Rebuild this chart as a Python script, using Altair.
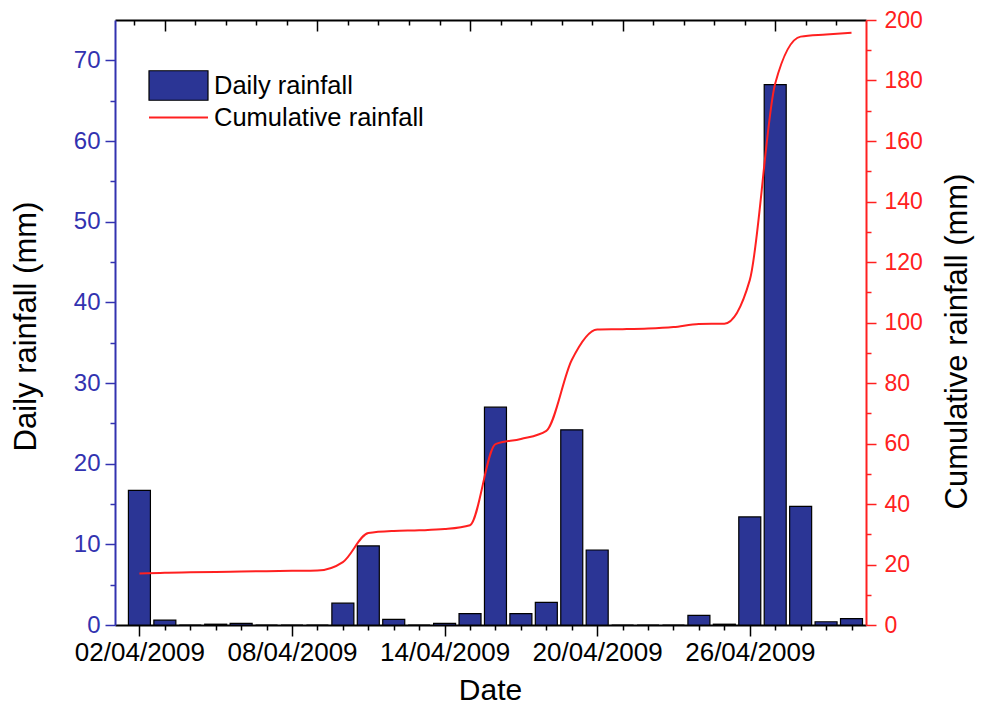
import altair as alt
import pandas as pd

# Day of April 2009
days = list(range(2, 31))
daily_rain = [16.7, 0.6, 0.0, 0.1, 0.2, 0.0, 0.0, 0.0, 2.7, 9.8, 0.7, 0.0, 0.2, 1.4,
              27.0, 1.4, 2.8, 24.2, 9.3, 0.0, 0.0, 0.0, 1.2, 0.1, 13.4, 67.0, 14.7, 0.4, 0.8]
cumulative_rain = [17.0, 17.3, 17.4, 17.5, 17.7, 17.8, 17.9, 18.0, 20.8, 30.4, 31.1, 31.3,
                   31.7, 33.0, 59.8, 61.5, 64.2, 87.6, 97.7, 97.8, 98.0, 98.5, 99.5, 99.6,
                   114.0, 179.0, 194.5, 195.2, 195.8]
bar_series = "Daily rainfall"
line_series = "Cumulative rainfall"

top_ticks = [round(1.8 + 1.2 * k, 2) for k in range(24)]
left_ticks = list(range(0, 71, 5))
right_ticks = list(range(0, 201, 10))

df = pd.DataFrame({
    "day": days,
    "daily": daily_rain,
    "cumulative": cumulative_rain,
    "s1": [bar_series] * len(days),
    "s2": [line_series] * len(days),
})

FONT = "Liberation Sans"
BLUE = "#3232b0"
BAR = "#2b3595"
RED = "#ff2020"
W, H = 751, 605

xscale = alt.Scale(domain=[1.04, 30.57], nice=False, zero=False, padding=0)

bottom_axis = alt.Axis(
    values=days, title="Date", grid=False,
    labelExpr="datum.value % 6 == 2 ? (datum.value < 10 ? '0' : '') + datum.value + '/04/2009' : ''",
    tickSize={"condition": {"test": "datum.value % 6 == 2", "value": 11}, "value": 5},
    labelOverlap=False, labelFlush=False, labelFont=FONT, labelFontSize=26,
    labelColor="black", labelPadding=3, domainColor="black", tickColor="black",
    domainWidth=2, tickWidth=1.5, titleFont=FONT, titleFontSize=30,
    titleFontWeight="normal", titleColor="black",
    titleX=375, titleY=74, titleAlign="center", titleBaseline="alphabetic",
)

top_axis = alt.Axis(
    orient="bottom", offset=-H, values=top_ticks, labels=False, title=None, grid=False,
    tickSize={"condition": {"test": "round(datum.value * 10) % 60 == 30", "value": 11}, "value": 5},
    domainColor="black", tickColor="black", domainWidth=2, tickWidth=1.5,
)

left_axis = alt.Axis(
    values=left_ticks, title="Daily rainfall (mm)", grid=False,
    labelExpr="datum.value % 10 == 0 ? datum.value : ''",
    tickSize={"condition": {"test": "datum.value % 10 == 0", "value": 10}, "value": 5},
    labelFont=FONT, labelFontSize=24, labelColor=BLUE, labelPadding=5,
    domainColor=BLUE, tickColor=BLUE, domainWidth=2, tickWidth=1.5,
    titleFont=FONT, titleFontSize=31, titleFontWeight="normal", titleColor="black",
    titleAngle=270, titleX=-89, titleY=306, titleAlign="center", titleBaseline="middle",
)

right_axis = alt.Axis(
    orient="right", values=right_ticks, title="Cumulative rainfall (mm)", grid=False,
    labelExpr="datum.value % 20 == 0 ? datum.value : ''",
    tickSize={"condition": {"test": "datum.value % 20 == 0", "value": 10}, "value": 5},
    labelFont=FONT, labelFontSize=23, labelColor=RED, labelPadding=8,
    domainColor=RED, tickColor=RED, domainWidth=2, tickWidth=1.5,
    titleFont=FONT, titleFontSize=31, titleFontWeight="normal", titleColor="black",
    titleAngle=270, titleX=91, titleY=321, titleAlign="center", titleBaseline="middle",
)

bars = alt.Chart(df).mark_bar(size=22, stroke="black", strokeWidth=1.2).encode(
    x=alt.X("day:Q", scale=xscale, axis=bottom_axis),
    y=alt.Y("daily:Q", scale=alt.Scale(domain=[0, 75], nice=False, padding=0), axis=left_axis),
    fill=alt.Fill("s1:N", scale=alt.Scale(domain=[bar_series], range=[BAR]),
                  legend=alt.Legend(title=None, orient="none", legendX=33, legendY=35,
                                    symbolType="M-1,-0.5H1V0.5H-1Z", symbolSize=3481,
                                    symbolStrokeColor="black", symbolStrokeWidth=1.2,
                                    labelFont=FONT, labelFontSize=25.5, labelColor="black",
                                    labelOffset=5, labelLimit=0, padding=0)),
)

line = alt.Chart(df).mark_line(interpolate="monotone", strokeWidth=2).encode(
    x=alt.X("day:Q", scale=xscale, axis=top_axis),
    y=alt.Y("cumulative:Q", scale=alt.Scale(domain=[0, 200], nice=False, padding=0), axis=right_axis),
    stroke=alt.Stroke("s2:N", scale=alt.Scale(domain=[line_series], range=[RED]),
                      legend=alt.Legend(title=None, orient="none", legendX=33, legendY=67,
                                        symbolType="stroke", symbolSize=3481,
                                        symbolStrokeWidth=2,
                                        labelFont=FONT, labelFontSize=25.5, labelColor="black",
                                        labelOffset=5, labelLimit=0, padding=0)),
)

chart = alt.layer(bars, line).resolve_scale(
    y="independent"
).resolve_axis(
    x="independent", y="independent"
).resolve_legend(
    fill="independent", stroke="independent"
).properties(
    width=W, height=H,
    autosize=alt.AutoSizeParams(type="none"),
    padding={"left": 107, "top": 12, "right": 110, "bottom": 83},
).configure_view(stroke=None).configure(background="white")

chart.save("out.html", embed_options={"renderer": "svg", "actions": False})
